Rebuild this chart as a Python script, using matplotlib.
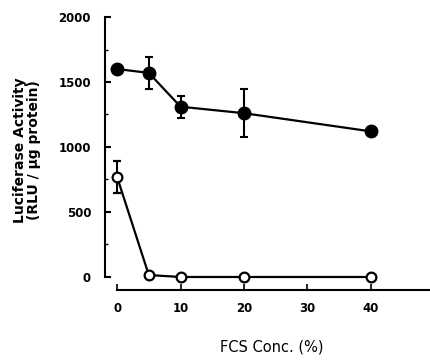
import matplotlib.pyplot as plt
from matplotlib.ticker import MultipleLocator

plt.rcParams['font.family'] = ['DejaVu Sans']

# data
fcs_conc = [0, 5, 10, 20, 40]
filled_vals = [1600, 1570, 1310, 1260, 1120]
filled_err = [0, 125, 85, 185, 0]
open_vals = [770, 15, 0, 0, 0]
open_err = [125, 0, 15, 0, 0]

fig = plt.figure(figsize=(4.3, 3.61), dpi=100)
ax = fig.add_axes([0.2442, 0.1967, 0.7558, 0.7562])

ax.errorbar(fcs_conc, filled_vals, yerr=filled_err, color='black', lw=1.6,
            marker='o', ms=9, mfc='black', mec='black',
            elinewidth=1.5, capsize=3, capthick=1.5, zorder=3)
ax.errorbar(fcs_conc, open_vals, yerr=open_err, color='black', lw=1.6,
            marker='o', ms=7, mfc='white', mec='black', mew=1.6,
            elinewidth=1.5, capsize=3, capthick=1.5, zorder=3)

ax.set_xlim(-1.9, 49.3)
ax.set_ylim(-100, 2000)

for s in ['top', 'right']:
    ax.spines[s].set_visible(False)
ax.spines['left'].set_bounds(0, 2000)
ax.spines['bottom'].set_bounds(0, 49.3)
ax.spines['left'].set_linewidth(1.5)
ax.spines['bottom'].set_linewidth(1.5)

ax.set_yticks([0, 500, 1000, 1500, 2000])
ax.yaxis.set_minor_locator(MultipleLocator(250))
ax.set_xticks([0, 10, 20, 30, 40])
ax.tick_params(axis='y', which='major', direction='in', length=4, width=1.5, pad=10)
ax.tick_params(axis='y', which='minor', direction='in', length=2, width=1)
ax.tick_params(axis='x', which='major', direction='in', length=4, width=1.2, pad=9)
for lab in ax.get_xticklabels() + ax.get_yticklabels():
    lab.set_fontweight('bold')
    lab.set_fontsize(8.5)

fig.text(0.063, 0.585, 'Luciferase Activity\n(RLU / μg protein)', rotation=90,
         ha='center', va='center', fontsize=10, fontweight='bold',
         linespacing=0.95)
fig.text(0.633, 0.038, 'FCS Conc. (%)', ha='center', va='center', fontsize=10.5)

fig.savefig('out.png', dpi=100)
